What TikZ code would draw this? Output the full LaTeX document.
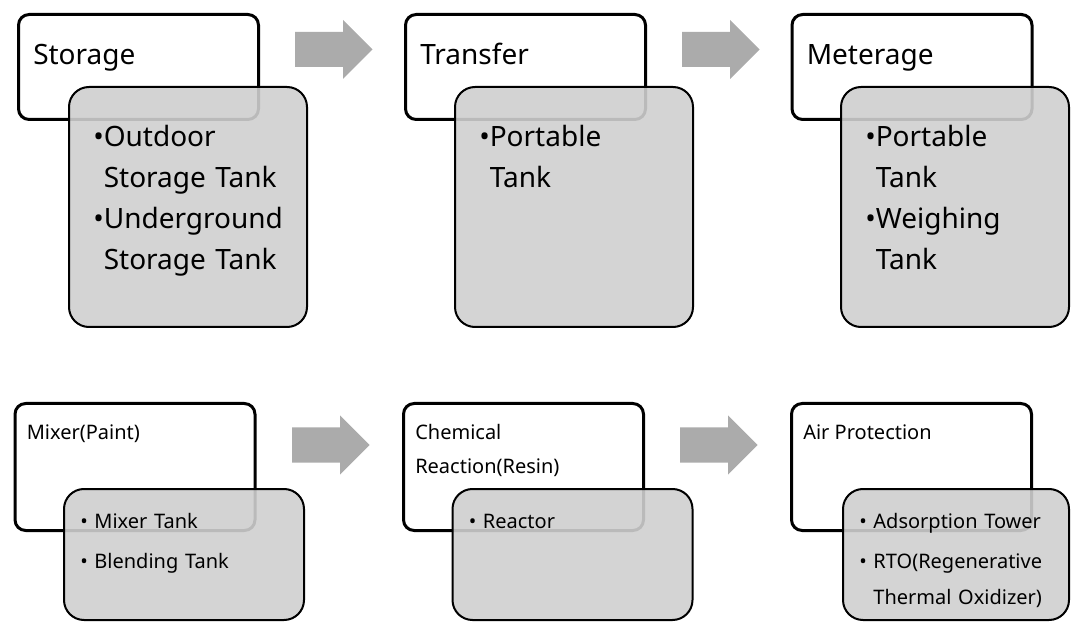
\documentclass[tikz,border=0pt]{standalone}
\usepackage{fontspec}
\setmainfont{Noto Sans}
\usepackage{tikz}
\usetikzlibrary{positioning}
\definecolor{ink}{HTML}{000000}
\definecolor{partbg}{HTML}{CFCFCF}
\definecolor{flowgray}{HTML}{ABABAB}

\begin{document}
\begin{tikzpicture}[x=0.75pt,y=-0.75pt,
  stage/.style={draw=ink,fill=white,line width=2.25pt,rounded corners=8pt,
                minimum width=180pt,inner sep=0pt},
  part/.style={draw=ink,fill=partbg,fill opacity=0.9,line width=1.5pt,
               rounded corners=15pt,minimum width=178.5pt,inner sep=0pt},
  bigtxt/.style={font=\fontsize{21}{30.75}\selectfont,inner sep=0pt,anchor=base west},
  smalltxt/.style={font=\fontsize{15}{25.5}\selectfont,inner sep=0pt,anchor=base west},
  items/.style={text width=170pt,align=left}]
  \useasboundingbox (0,0) rectangle (1071,623);

  % upper row: storage -> transfer -> meterage
  \node[stage,minimum height=78.75pt] (st1) at (138.5,67) {};
  \node[part,minimum height=180pt] (pt1) at (188,207) {};
  \node[stage,minimum height=78.75pt] (st2) at (525.5,67) {};
  \node[part,minimum height=180pt] (pt2) at (574,207) {};
  \node[stage,minimum height=78.75pt] (st3) at (912,67) {};
  \node[part,minimum height=180pt,minimum width=171pt] (pt3) at (955,207) {};

  \node[bigtxt] (lb1) at ([shift={(16,52)}]st1.north west) {Storage};
  \node[bigtxt] (lb2) at ([shift={(16,52)}]st2.north west) {Transfer};
  \node[bigtxt] (lb3) at ([shift={(16,52)}]st3.north west) {Meterage};

  \node[bigtxt,items] (it1) at ([shift={(25,61)}]pt1.north west)
    {•Outdoor\\\hphantom{•}Storage Tank\\•Underground\\\hphantom{•}Storage Tank};
  \node[bigtxt,items] (it2) at ([shift={(25,61)}]pt2.north west)
    {•Portable\\\hphantom{•}Tank};
  \node[bigtxt,items] (it3) at ([shift={(25,61)}]pt3.north west)
    {•Portable\\\hphantom{•}Tank\\•Weighing\\\hphantom{•}Tank};

  % lower row: mixer -> reaction -> air protection
  \node[stage,minimum height=95.25pt] (st4) at (135,467) {};
  \node[part,minimum height=98.25pt,minimum width=180pt] (pt4) at (184,554.5) {};
  \node[stage,minimum height=95.25pt] (st5) at (523.5,467) {};
  \node[part,minimum height=98.25pt,minimum width=180pt] (pt5) at (572.5,554.5) {};
  \node[stage,minimum height=95.25pt] (st6) at (911.5,467) {};
  \node[part,minimum height=98.25pt,minimum width=169.5pt] (pt6) at (956,554.5) {};

  \node[smalltxt] (lb4) at ([shift={(13,38)}]st4.north west) {Mixer(Paint)};
  \node[smalltxt,items] (lb5) at ([shift={(13,38)}]st5.north west)
    {Chemical\\Reaction(Resin)};
  \node[smalltxt] (lb6) at ([shift={(13,38)}]st6.north west) {Air Protection};

  \node[smalltxt,items,font=\fontsize{15}{27}\selectfont] (it4)
    at ([shift={(17,40)}]pt4.north west) {• Mixer Tank\\[3pt]• Blending Tank};
  \node[smalltxt,items] (it5) at ([shift={(17,40)}]pt5.north west) {• Reactor};
  \node[smalltxt,items,font=\fontsize{15}{27}\selectfont] (it6)
    at ([shift={(17,40)}]pt6.north west)
    {• Adsorption Tower\\[3pt]• RTO(Regenerative\\\hphantom{• }Thermal Oxidizer)};

  % block arrows between the stages
  \foreach \ax/\ay in {295/49.5,682/49.5,292/445,680/445}
    \fill[flowgray] (\ax,\ay) ++(0,-17.5) -- ++(48,0) -- ++(0,-12)
      -- ++(29.5,29.5) -- ++(-29.5,29.5) -- ++(0,-12) -- ++(-48,0) -- cycle;
\end{tikzpicture}
\end{document}
